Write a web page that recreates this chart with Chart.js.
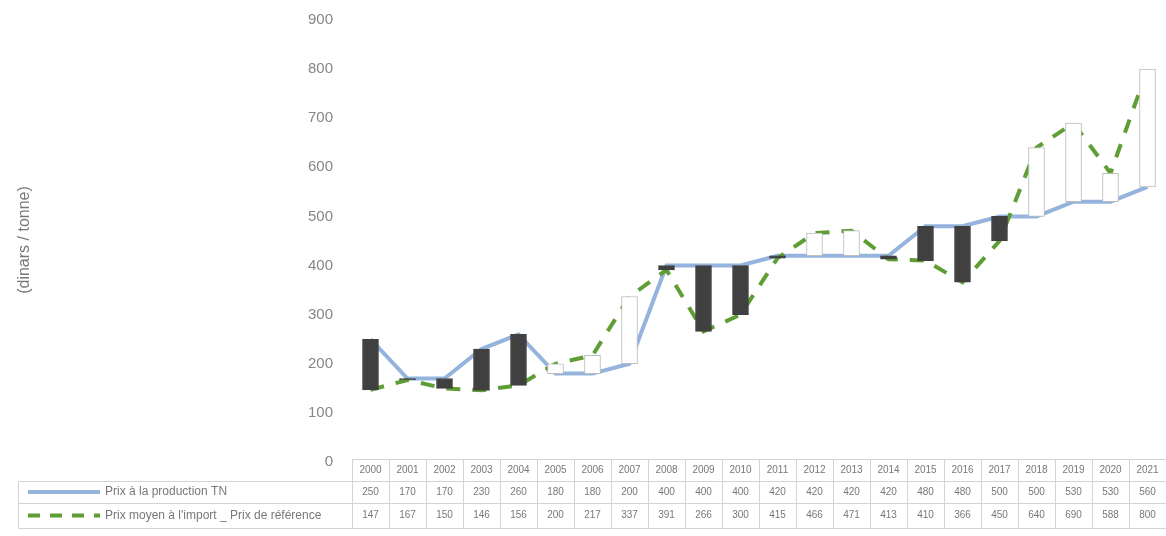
<!DOCTYPE html>
<html>
<head>
<meta charset="utf-8">
<script src="https://cdn.jsdelivr.net/npm/chart.js@4/dist/chart.umd.min.js"></script>
<style>
  html, body { margin: 0; padding: 0; background: #fff; overflow: hidden; }
  #wrap { width: 1166px; height: 536px; position: relative; }
</style>
</head>
<body>
<div id="wrap"><canvas id="prixChart" width="1166" height="536"></canvas></div>
<script>
// donnees
var years = ['2000','2001','2002','2003','2004','2005','2006','2007','2008','2009','2010',
             '2011','2012','2013','2014','2015','2016','2017','2018','2019','2020','2021'];
var prixProduction = [250,170,170,230,260,180,180,200,400,400,400,420,420,420,420,480,480,500,500,530,530,560];
var prixReference  = [147,167,150,146,156,200,217,337,391,266,300,415,466,471,413,410,366,450,640,690,588,800];
var labelProduction = 'Prix à la production TN';
var labelReference = "Prix moyen à l'import _ Prix de référence";
var axisTitle = '(dinars / tonne)';

var blue = '#94b3dd';
var green = '#5e9e34';
var textGray = '#787878';
var lineGray = '#d4d4d4';

// barres haut/bas entre les deux series
var upDown = years.map(function (y, i) { return [prixProduction[i], prixReference[i]]; });
var barFill = years.map(function (y, i) { return prixReference[i] < prixProduction[i] ? '#404040' : '#ffffff'; });
var barBorder = years.map(function (y, i) { return prixReference[i] < prixProduction[i] ? '#404040' : '#bdbdbd'; });

// table de donnees sous le graphique
var dataTable = {
  id: 'dataTable',
  afterDraw: function (chart) {
    var ctx = chart.ctx;
    var x = chart.scales.x;
    var area = chart.chartArea;
    var step = x.getPixelForValue(1) - x.getPixelForValue(0);
    var left = x.getPixelForValue(0) - step / 2;
    var right = x.getPixelForValue(years.length - 1) + step / 2;
    var legendLeft = 18;
    var rows = [area.bottom - 3, area.bottom + 19, area.bottom + 41, area.bottom + 66];

    ctx.save();
    ctx.strokeStyle = lineGray;
    ctx.lineWidth = 1;
    // lignes horizontales
    ctx.beginPath();
    ctx.moveTo(left, rows[0] + 0.5); ctx.lineTo(right, rows[0] + 0.5);
    for (var r = 1; r < rows.length; r++) {
      ctx.moveTo(legendLeft, rows[r] + 0.5); ctx.lineTo(right, rows[r] + 0.5);
    }
    // lignes verticales
    ctx.moveTo(legendLeft + 0.5, rows[1]); ctx.lineTo(legendLeft + 0.5, rows[3]);
    for (var i = 0; i <= years.length; i++) {
      var px = Math.round(left + i * step) + 0.5;
      ctx.moveTo(px, rows[0]); ctx.lineTo(px, rows[3]);
    }
    ctx.stroke();

    ctx.fillStyle = textGray;
    ctx.font = '10px "Liberation Sans", Arial, sans-serif';
    ctx.textAlign = 'center';
    ctx.textBaseline = 'middle';
    years.forEach(function (y, i) {
      var cx = x.getPixelForValue(i);
      ctx.fillText(y, cx, (rows[0] + rows[1]) / 2);
      ctx.fillText(String(prixProduction[i]), cx, (rows[1] + rows[2]) / 2);
      ctx.fillText(String(prixReference[i]), cx, (rows[2] + rows[3]) / 2);
    });

    // legende dans la table
    var y1 = (rows[1] + rows[2]) / 2;
    var y2 = (rows[2] + rows[3]) / 2;
    ctx.strokeStyle = blue;
    ctx.lineWidth = 4;
    ctx.beginPath(); ctx.moveTo(28, y1); ctx.lineTo(100, y1); ctx.stroke();
    ctx.strokeStyle = green;
    ctx.lineWidth = 4;
    ctx.setLineDash([12, 10]);
    ctx.beginPath(); ctx.moveTo(28, y2); ctx.lineTo(100, y2); ctx.stroke();
    ctx.setLineDash([]);
    ctx.textAlign = 'left';
    ctx.font = '12px "Liberation Sans", Arial, sans-serif';
    ctx.fillText(labelProduction, 105, y1);
    ctx.fillText(labelReference, 105, y2);

    // titre de l'axe
    ctx.font = '16px "Liberation Sans", Arial, sans-serif';
    ctx.textAlign = 'center';
    ctx.translate(25, 240);
    ctx.rotate(-Math.PI / 2);
    ctx.fillText(axisTitle, 0, 0);
    ctx.restore();
  }
};

var ctx = document.getElementById('prixChart').getContext('2d');
var myChart = new Chart(ctx, {
  data: {
    labels: years,
    datasets: [{
      type: 'bar',
      label: 'haut-bas',
      data: upDown,
      backgroundColor: barFill,
      borderColor: barBorder,
      borderWidth: 1,
      borderSkipped: false,
      barThickness: 16,
      order: 0
    }, {
      type: 'line',
      label: labelProduction,
      data: prixProduction,
      borderColor: blue,
      borderWidth: 4,
      pointRadius: 0,
      tension: 0,
      order: 2
    }, {
      type: 'line',
      label: labelReference,
      data: prixReference,
      borderColor: green,
      borderWidth: 4,
      borderDash: [14, 12],
      pointRadius: 0,
      tension: 0,
      order: 1
    }]
  },
  options: {
    responsive: false,
    animation: false,
    layout: { padding: { top: 19, bottom: 74, left: 0, right: 0 } },
    plugins: {
      legend: { display: false },
      tooltip: { enabled: false }
    },
    scales: {
      x: { display: false, offset: true },
      y: {
        min: 0,
        max: 900,
        ticks: {
          stepSize: 100,
          padding: 11,
          color: '#868686',
          font: { size: 15, family: '"Liberation Sans", Arial, sans-serif' }
        },
        grid: { display: false },
        border: { display: false },
        afterFit: function (scale) { scale.width = 352; }
      }
    }
  },
  plugins: [dataTable]
});
</script>
</body>
</html>
